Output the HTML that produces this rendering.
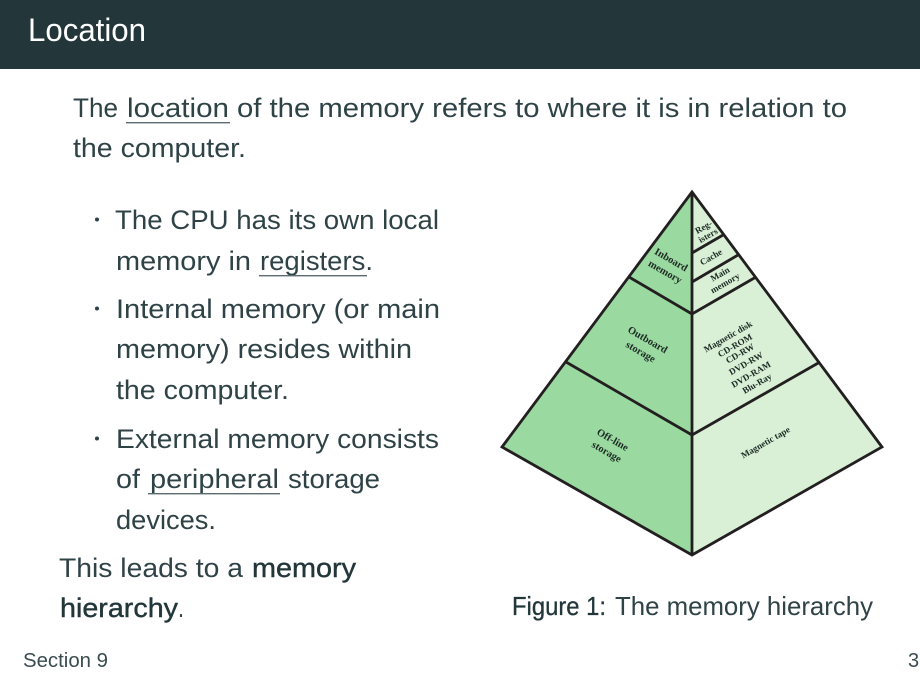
<!DOCTYPE html>
<html lang="en">
<head>
<meta charset="utf-8">
<title>Location</title>
<style>
html,body{margin:0;padding:0;background:#fff;}
svg{display:block;}
.t{font-family:"Liberation Sans",sans-serif;font-size:27px;fill:#2f4347;}
.b{fill:#23373b;stroke:#23373b;stroke-width:.4px;}
.d{font-family:"Liberation Serif",serif;font-weight:bold;fill:#1d2a24;text-anchor:middle;}
</style>
</head>
<body>
<svg width="920" height="679" viewBox="0 0 920 679" xmlns="http://www.w3.org/2000/svg">
<rect width="920" height="679" fill="#fff"/>
<rect width="920" height="69" fill="#23373b"/>
<text x="28" y="41" font-family="Liberation Sans, sans-serif" font-size="32" fill="#fff" textLength="118" lengthAdjust="spacingAndGlyphs">Location</text>

<text class="t" x="73" y="117" textLength="45" lengthAdjust="spacingAndGlyphs">The</text>
<text class="t" x="127" y="117" textLength="102" lengthAdjust="spacingAndGlyphs">location</text>
<rect x="126" y="122" width="104" height="1.4" fill="#5d6c70"/>
<text class="t" x="237" y="117" textLength="610" lengthAdjust="spacingAndGlyphs">of the memory refers to where it is in relation to</text>
<text class="t" x="73" y="157" textLength="173" lengthAdjust="spacingAndGlyphs">the computer.</text>

<circle cx="97" cy="219.500" r="2" fill="#2f4347"/>
<text class="t" x="115" y="229" textLength="324" lengthAdjust="spacingAndGlyphs">The CPU has its own local</text>
<text class="t" x="116" y="270" textLength="135" lengthAdjust="spacingAndGlyphs">memory in</text>
<text class="t" x="260" y="270" textLength="113" lengthAdjust="spacingAndGlyphs">registers.</text>
<rect x="259" y="275" width="108" height="1.4" fill="#5d6c70"/>

<circle cx="97" cy="308.500" r="2" fill="#2f4347"/>
<text class="t" x="116" y="318" textLength="324" lengthAdjust="spacingAndGlyphs">Internal memory (or main</text>
<text class="t" x="116" y="358" textLength="296" lengthAdjust="spacingAndGlyphs">memory) resides within</text>
<text class="t" x="116" y="399" textLength="173" lengthAdjust="spacingAndGlyphs">the computer.</text>

<circle cx="97" cy="438.500" r="2" fill="#2f4347"/>
<text class="t" x="116" y="448" textLength="323" lengthAdjust="spacingAndGlyphs">External memory consists</text>
<text class="t" x="116" y="488" textLength="24" lengthAdjust="spacingAndGlyphs">of</text>
<text class="t" x="150" y="488" textLength="129" lengthAdjust="spacingAndGlyphs">peripheral</text>
<rect x="148" y="493" width="132" height="1.4" fill="#5d6c70"/>
<text class="t" x="288" y="488" textLength="92" lengthAdjust="spacingAndGlyphs">storage</text>
<text class="t" x="116" y="529" textLength="100" lengthAdjust="spacingAndGlyphs">devices.</text>

<text class="t" x="59" y="577" textLength="184" lengthAdjust="spacingAndGlyphs">This leads to a</text>
<text class="t b" x="252" y="577" textLength="104" lengthAdjust="spacingAndGlyphs">memory</text>
<text class="t b" x="60" y="617" textLength="118" lengthAdjust="spacingAndGlyphs">hierarchy</text>
<text class="t" x="178" y="617" textLength="6" lengthAdjust="spacingAndGlyphs">.</text>

<text class="t b" x="512" y="615" textLength="94" lengthAdjust="spacingAndGlyphs" style="font-size:26px;stroke-width:.3px">Figure 1:</text>
<text class="t" x="615" y="615" textLength="258" lengthAdjust="spacingAndGlyphs" style="font-size:26px">The memory hierarchy</text>

<text x="23" y="667" font-family="Liberation Sans, sans-serif" font-size="20" fill="#3a4c50" textLength="85" lengthAdjust="spacingAndGlyphs">Section 9</text>
<text x="908" y="667" font-family="Liberation Sans, sans-serif" font-size="20" fill="#3a4c50">3</text>

<polygon points="692,192 502,447 692,555" fill="#9ad9a0"/>
<polygon points="692,192 882,447 692,555" fill="#d9f0d6"/>
<g fill="none" stroke="#231f20" stroke-width="2.800" stroke-linejoin="miter">
<polygon points="692,192 502,447 692,555 882,447"/>
<line x1="692" y1="192" x2="692" y2="555"/>
<polyline points="566,362 692,435 820,362"/>
<polyline points="629,277 692,314 756,277"/>
<line x1="692" y1="282" x2="738" y2="255"/>
<line x1="692" y1="253" x2="723" y2="235"/>
</g>

<g class="d" font-size="10.400">
<text transform="translate(669.500,262.600) rotate(30)">Inboard</text>
<text transform="translate(663.500,274.600) rotate(30)">memory</text>
<text transform="translate(646,342.600) rotate(30)">Outboard</text>
<text transform="translate(639,354.600) rotate(30)">storage</text>
<text transform="translate(611,442.600) rotate(30)">Off-line</text>
<text transform="translate(605,454.600) rotate(30)">storage</text>
</g>
<g class="d" font-size="9">
<text transform="translate(705,229.600) rotate(-30)">Reg-</text>
<text transform="translate(709.500,238) rotate(-30)">isters</text>
<text transform="translate(712.500,259.600) rotate(-30)">Cache</text>
<text transform="translate(721.500,276.600) rotate(-30)">Main</text>
<text transform="translate(726.500,285.600) rotate(-30)">memory</text>
<text transform="translate(729.500,339) rotate(-30)">Magnetic disk</text>
<text transform="translate(736.500,348) rotate(-30)">CD-ROM</text>
<text transform="translate(741.500,356) rotate(-30)">CD-RW</text>
<text transform="translate(747.500,366) rotate(-30)">DVD-RW</text>
<text transform="translate(752.500,377) rotate(-30)">DVD-RAM</text>
<text transform="translate(758.500,386) rotate(-30)">Blu-Ray</text>
<text transform="translate(767,445) rotate(-30)">Magnetic tape</text>
</g>
</svg>
</body>
</html>
